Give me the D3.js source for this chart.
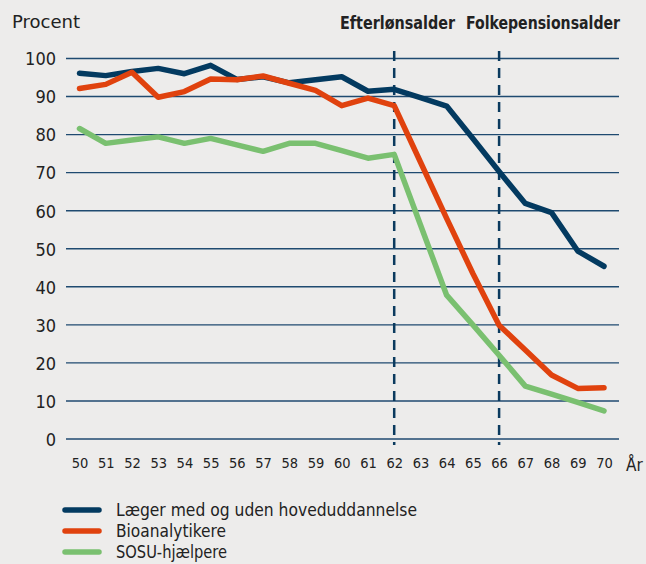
<!DOCTYPE html>
<html>
<head>
<meta charset="utf-8">
<script src="https://cdn.jsdelivr.net/npm/d3@7"></script>
<style>
  body { margin: 0; background: #edeceb; }
  svg { display: block; font-family: "DejaVu Sans Condensed", "Open Sans", sans-serif; }
</style>
</head>
<body>
<div id="chart"></div>
<script>
const years = d3.range(50, 71);
const laeger = [96.1, 95.5, 96.6, 97.4, 96.0, 98.2, 94.5, 95.2, 93.6, 94.4, 95.2, 91.4, 91.9, 89.7, 87.5, 79.0, 70.3, 61.9, 59.5, 49.4, 45.4];
const bioanalytikere = [92.1, 93.2, 96.4, 89.8, 91.3, 94.6, 94.4, 95.4, 93.5, 91.6, 87.6, 89.6, 87.6, 72.8, 58.0, 43.5, 29.9, 23.4, 16.8, 13.3, 13.5];
const sosu = [81.6, 77.7, 78.6, 79.4, 77.7, 79.0, 77.3, 75.6, 77.7, 77.7, 75.8, 73.8, 74.8, 56.3, 37.8, 30.0, 22.0, 13.9, 11.8, 9.6, 7.4];
const yTicks = [0, 10, 20, 30, 40, 50, 60, 70, 80, 90, 100];
const markers = [
  { year: 62, label: "Efterlønsalder" },
  { year: 66, label: "Folkepensionsalder" }
];
const series = [
  { name: "Læger med og uden hoveduddannelse", values: laeger, color: "#033a60" },
  { name: "Bioanalytikere", values: bioanalytikere, color: "#e0420e" },
  { name: "SOSU-hjælpere", values: sosu, color: "#7ac070" }
];

const width = 646, height = 564;
const svg = d3.select("#chart").append("svg")
  .attr("width", width)
  .attr("height", height);

svg.append("rect").attr("width", width).attr("height", height).attr("fill", "#edeceb");

const xScale = d3.scaleLinear().domain([50, 70]).range([79.5, 604]);
const yScale = d3.scaleLinear().domain([0, 100]).range([439, 58.5]);

// gridlines
svg.append("g")
  .selectAll("line")
  .data(yTicks)
  .join("line")
    .attr("x1", 66)
    .attr("x2", 619)
    .attr("y1", d => yScale(d))
    .attr("y2", d => yScale(d))
    .attr("stroke", "#1f4a70")
    .attr("stroke-width", 1.4);

// y axis labels
const yAxis = d3.axisLeft(yScale).tickValues(yTicks).tickSize(0).tickPadding(0);
svg.append("g")
  .attr("transform", "translate(56,0)")
  .call(yAxis)
  .call(g => g.select(".domain").remove())
  .selectAll("text")
    .attr("font-size", 18)
    .attr("font-family", "'DejaVu Sans Condensed', sans-serif")
    .attr("fill", "#222")
    .attr("dy", "0.35em");

// x axis labels
const xAxis = d3.axisBottom(xScale).tickValues(years).tickSize(0).tickPadding(0);
svg.append("g")
  .attr("transform", "translate(0,458)")
  .call(xAxis)
  .call(g => g.select(".domain").remove())
  .selectAll("text")
    .attr("font-size", 14.5)
    .attr("font-family", "'DejaVu Sans Condensed', sans-serif")
    .attr("fill", "#222")
    .attr("dy", "0.71em");

svg.append("text")
  .attr("x", 626)
  .attr("y", 471)
  .attr("font-size", 17)
  .attr("fill", "#222")
  .text("År");

svg.append("text")
  .attr("x", 12)
  .attr("y", 28)
  .attr("font-size", 17)
  .attr("fill", "#222")
  .attr("textLength", 68)
  .attr("lengthAdjust", "spacingAndGlyphs")
  .text("Procent");

// dashed markers
svg.append("g")
  .selectAll("line")
  .data(markers)
  .join("line")
    .attr("x1", d => xScale(d.year))
    .attr("x2", d => xScale(d.year))
    .attr("y1", 51)
    .attr("y2", 445)
    .attr("stroke", "#0b3a5e")
    .attr("stroke-width", 2.5)
    .attr("stroke-dasharray", "10,7");

svg.append("g")
  .selectAll("text")
  .data(markers)
  .join("text")
    .attr("x", d => d.year === 62 ? 340 : 466)
    .attr("y", 29)
    .attr("font-size", 17)
    .attr("font-weight", "bold")
    .attr("fill", "#222")
    .attr("textLength", d => d.year === 62 ? 115 : 154)
    .attr("lengthAdjust", "spacingAndGlyphs")
    .text(d => d.label);

// lines
const line = d3.line()
  .x((d, i) => xScale(years[i]))
  .y(d => yScale(d))
  .curve(d3.curveLinear);

svg.append("g")
  .selectAll("path")
  .data(series)
  .join("path")
    .attr("fill", "none")
    .attr("stroke", d => d.color)
    .attr("stroke-width", 5.5)
    .attr("stroke-linejoin", "round")
    .attr("stroke-linecap", "round")
    .attr("d", d => line(d.values));

// legend
const legend = svg.append("g")
  .selectAll("g")
  .data(series)
  .join("g")
    .attr("transform", (d, i) => `translate(65,${510 + i * 21})`);

legend.append("line")
  .attr("x1", 0).attr("x2", 34)
  .attr("stroke", d => d.color)
  .attr("stroke-width", 5.5)
  .attr("stroke-linecap", "round");

legend.append("text")
  .attr("x", 51)
  .attr("dy", "0.35em")
  .attr("font-size", 17)
  .attr("fill", "#222")
  .attr("textLength", d => ({ "Læger med og uden hoveduddannelse": 301, "Bioanalytikere": 110, "SOSU-hjælpere": 111 })[d.name])
  .attr("lengthAdjust", "spacingAndGlyphs")
  .text(d => d.name);
</script>
</body>
</html>
